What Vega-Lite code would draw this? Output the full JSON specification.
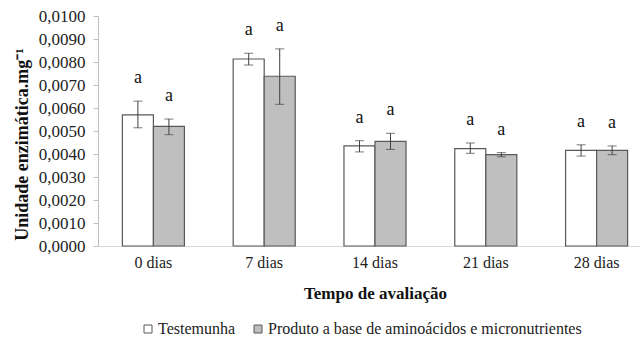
{
  "$schema": "https://vega.github.io/schema/vega-lite/v6.json",
  "width": 542,
  "height": 230,
  "autosize": {"type": "none"},
  "padding": {"left": 98, "top": 16, "right": 0, "bottom": 92},
  "background": "white",
  "config": {
    "view": {"stroke": null},
    "font": "Liberation Serif",
    "axisY": {
      "tickCount": 11,
      "labelExpr": "replace(format(datum.value, '.4f'), '.', ',')",
      "labelOverlap": false,
      "labelFlush": false,
      "labelSeparation": 0,
      "grid": false,
      "domainColor": "#BFBFBF",
      "tickColor": "#BFBFBF",
      "tickSize": 5,
      "labelFont": "Liberation Serif",
      "labelFontSize": 17,
      "labelColor": "#222222",
      "labelPadding": 8,
      "titleFont": "Liberation Serif",
      "titleFontSize": 18,
      "titleFontWeight": "bold",
      "titleColor": "#111111",
      "titleX": -76,
      "titleY": 128,
      "titleAlign": "center",
      "titleBaseline": "middle"
    }
  },
  "data": {
    "values": [
      {"tempo": "0 dias", "tratamento": "Testemunha", "media": 0.0057, "lo": 0.00514, "hi": 0.0063, "letra": "a"},
      {"tempo": "0 dias", "tratamento": "Produto a base de aminoácidos e micronutrientes", "media": 0.0052, "lo": 0.00484, "hi": 0.00552, "letra": "a"},
      {"tempo": "7 dias", "tratamento": "Testemunha", "media": 0.00813, "lo": 0.00787, "hi": 0.00838, "letra": "a"},
      {"tempo": "7 dias", "tratamento": "Produto a base de aminoácidos e micronutrientes", "media": 0.00738, "lo": 0.00616, "hi": 0.00857, "letra": "a"},
      {"tempo": "14 dias", "tratamento": "Testemunha", "media": 0.00435, "lo": 0.00409, "hi": 0.00458, "letra": "a"},
      {"tempo": "14 dias", "tratamento": "Produto a base de aminoácidos e micronutrientes", "media": 0.00455, "lo": 0.0042, "hi": 0.0049, "letra": "a"},
      {"tempo": "21 dias", "tratamento": "Testemunha", "media": 0.00423, "lo": 0.00403, "hi": 0.00448, "letra": "a"},
      {"tempo": "21 dias", "tratamento": "Produto a base de aminoácidos e micronutrientes", "media": 0.00397, "lo": 0.00388, "hi": 0.00406, "letra": "a"},
      {"tempo": "28 dias", "tratamento": "Testemunha", "media": 0.00416, "lo": 0.00391, "hi": 0.0044, "letra": "a"},
      {"tempo": "28 dias", "tratamento": "Produto a base de aminoácidos e micronutrientes", "media": 0.00416, "lo": 0.00397, "hi": 0.00435, "letra": "a"}
    ]
  },
  "encoding": {
    "x": {
      "field": "tempo",
      "type": "nominal",
      "sort": ["0 dias", "7 dias", "14 dias", "21 dias", "28 dias"],
      "scale": {"range": [0, 554], "paddingInner": 0.44, "paddingOuter": 0.22},
      "title": "Tempo de avaliação",
      "axis": {
        "labelAngle": 0,
        "labelFont": "Liberation Serif",
        "labelFontSize": 16,
        "labelColor": "#222222",
        "labelPadding": 8,
        "ticks": false,
        "domainColor": "#D9D9D9",
        "domainWidth": 1,
        "titleFont": "Liberation Serif",
        "titleFontSize": 17,
        "titleFontWeight": "bold",
        "titleColor": "#111111",
        "titlePadding": 15
      }
    },
    "xOffset": {
      "field": "tratamento",
      "type": "nominal",
      "sort": ["Testemunha", "Produto a base de aminoácidos e micronutrientes"]
    }
  },
  "layer": [
    {
      "mark": {"type": "bar", "stroke": "#595959", "strokeWidth": 1.2},
      "encoding": {
        "y": {
          "field": "media",
          "type": "quantitative",
          "scale": {"domain": [0, 0.01], "nice": false},
          "title": "Unidade enzimática.mg⁻¹",
          "axis": {"values": [0, 0.001, 0.002, 0.003, 0.004, 0.005, 0.006, 0.007, 0.008, 0.009, 0.01], "labelOverlap": false}
        },
        "fill": {
          "field": "tratamento",
          "type": "nominal",
          "sort": ["Testemunha", "Produto a base de aminoácidos e micronutrientes"],
          "scale": {"range": ["#FFFFFF", "#BFBFBF"]},
          "legend": {
            "orient": "none",
            "direction": "horizontal",
            "legendX": 42,
            "legendY": 305,
            "title": null,
            "symbolType": "square",
            "symbolSize": 64,
            "symbolStrokeColor": "#595959",
            "symbolStrokeWidth": 1,
            "labelFont": "Liberation Serif",
            "labelFontSize": 16,
            "labelColor": "#222222",
            "labelLimit": 0,
            "labelOffset": 2,
            "columnPadding": 14
          }
        }
      }
    },
    {
      "mark": {"type": "rule", "color": "#404040", "strokeWidth": 1},
      "encoding": {
        "y": {"field": "lo", "type": "quantitative", "title": "Unidade enzimática.mg⁻¹",
              "axis": {"values": [0, 0.001, 0.002, 0.003, 0.004, 0.005, 0.006, 0.007, 0.008, 0.009, 0.01], "labelOverlap": false}},
        "y2": {"field": "hi"}
      }
    },
    {
      "mark": {"type": "tick", "color": "#404040", "size": 9, "thickness": 1},
      "encoding": {"y": {"field": "lo", "type": "quantitative", "title": "Unidade enzimática.mg⁻¹",
              "axis": {"values": [0, 0.001, 0.002, 0.003, 0.004, 0.005, 0.006, 0.007, 0.008, 0.009, 0.01], "labelOverlap": false}}}
    },
    {
      "mark": {"type": "tick", "color": "#404040", "size": 9, "thickness": 1},
      "encoding": {"y": {"field": "hi", "type": "quantitative", "title": "Unidade enzimática.mg⁻¹",
              "axis": {"values": [0, 0.001, 0.002, 0.003, 0.004, 0.005, 0.006, 0.007, 0.008, 0.009, 0.01], "labelOverlap": false}}}
    },
    {
      "mark": {"type": "text", "dy": -23, "font": "Liberation Serif", "fontSize": 18, "color": "#111111", "baseline": "middle"},
      "encoding": {
        "y": {"field": "hi", "type": "quantitative", "title": "Unidade enzimática.mg⁻¹",
              "axis": {"values": [0, 0.001, 0.002, 0.003, 0.004, 0.005, 0.006, 0.007, 0.008, 0.009, 0.01], "labelOverlap": false}},
        "text": {"field": "letra"}
      }
    }
  ]
}
